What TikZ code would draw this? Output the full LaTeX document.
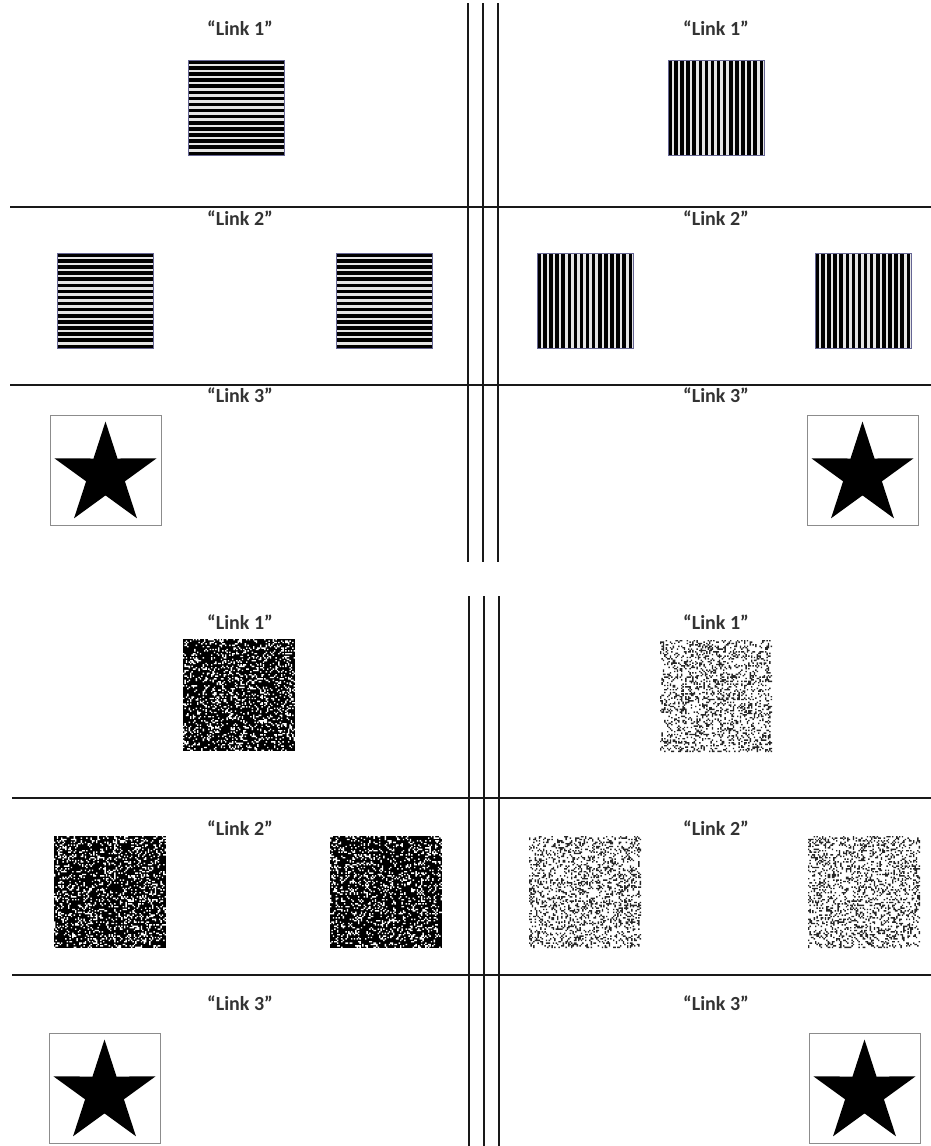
\documentclass[tikz,border=0pt]{standalone}
\usepackage{fontspec}
\setmainfont{Carlito}
\usetikzlibrary{shapes.geometric,calc}
\newcount\nzn \newcount\nzi \newcount\nzj \newcount\nztot
\makeatletter
% #1 x0, #2 y0 (pixel, top-left), #3 cells per side, #4 cell size (pt), #5 percent
\newcommand\noisecells[5]{%
  \nztot=\numexpr#3*#3\relax
  \nzn=0
  \loop
    \nzj=\nzn \divide\nzj by #3\relax
    \nzi=\numexpr\nzn-\nzj*#3\relax
    \pgfmathrandominteger{\nzrand}{0}{99}%
    \ifnum\nzrand<#5\relax
      \pgfpathrectangle{\pgfqpoint{\dimexpr#1pt+#4pt*\nzi\relax}{\dimexpr-#2pt-#4pt*\nzj-#4pt\relax}}{\pgfqpoint{#4pt}{#4pt}}%
    \fi
    \advance\nzn by 1\relax
  \ifnum\nzn<\nztot\repeat
}
\makeatother
\newcommand\darknoise[2]{%
  \fill[black] (#1,#2) rectangle ++(112,112);
  \begin{pgfscope}\noisecells{#1}{#2}{80}{1.4}{22}\pgfsetfillcolor{white}\pgfusepath{fill}\end{pgfscope}}
\newcommand\lightnoise[2]{%
  \begin{pgfscope}\noisecells{#1}{#2}{80}{1.4}{26}\pgfsetfillcolor{black!85}\pgfusepath{fill}\end{pgfscope}}
\newcommand\hstripes[2]{%
  \fill[black!10] (#1,#2) rectangle ++(96,95);
  \foreach \k in {0,...,15} \fill[black] (#1,#2+\k*6.1) rectangle ++(96,3.5);
  \draw[stripeborder] (#1,#2) rectangle ++(96,95);}
\newcommand\vstripes[2]{%
  \fill[black!10] (#1,#2) rectangle ++(96,95);
  \foreach \k in {0,...,15} \fill[black] (#1+\k*6.1,#2) rectangle ++(3.5,95);
  \draw[stripeborder] (#1,#2) rectangle ++(96,95);}
\newcommand\starbox[2]{%
  \draw[starframe] (#1,#2) rectangle ++(111,110);
  \fill[black] ($(#1,#2)+(55.5,60)$) +(-90:53.5)
    \foreach \a in {0,...,4} { -- +(-90+72*\a:53.5) -- +(-54+72*\a:20.4) } -- cycle;}
\begin{document}
\begin{tikzpicture}[x=1pt,y=-1pt,
  sep/.style={line width=2.8pt, black!90},
  lbl/.style={font=\fontsize{20}{22}\selectfont\bfseries, text=black!80, inner sep=0pt, anchor=base},
  stripeborder/.style={draw=blue!30!black!60, line width=0.8pt},
  starframe/.style={draw=black!45, line width=1pt}]
\useasboundingbox (0,0) rectangle (931,1146);
\pgfmathsetseed{7}
% separators
\coordinate (t1a) at (10,207); \coordinate (t1b) at (931,207);
\coordinate (t2a) at (10,385); \coordinate (t2b) at (931,385);
\coordinate (b1a) at (12,798); \coordinate (b1b) at (931,798);
\coordinate (b2a) at (12,975); \coordinate (b2b) at (931,975);
\draw[sep] (t1a) -- (t1b); \draw[sep] (t2a) -- (t2b);
\draw[sep] (b1a) -- (b1b); \draw[sep] (b2a) -- (b2b);
\foreach \x in {468,483,498} {\draw[sep] (\x,3) -- (\x,562);}
\foreach \x in {469,484,499} {\draw[sep] (\x,596) -- (\x,1146);}
% labels
\foreach \y/\n [count=\c] in {35/1,225/2,402/3,629/1,835/2,1010/3} {
  \node[lbl] (l\c) at (240,\y) {“Link \n”};
  \node[lbl] (r\c) at (716,\y) {“Link \n”};
}
% top: stripes
\hstripes{188}{60}
\vstripes{668}{60}
\hstripes{57}{253}
\hstripes{336}{253}
\vstripes{537}{253}
\vstripes{815}{253}
\starbox{50}{415}
\starbox{807}{415}
% bottom: noise
\darknoise{183}{639}
\lightnoise{660}{640}
\darknoise{54}{836}
\darknoise{330}{836}
\lightnoise{529}{836}
\lightnoise{808}{836}
\starbox{49}{1033}
\starbox{809}{1033}
\end{tikzpicture}
\end{document}
